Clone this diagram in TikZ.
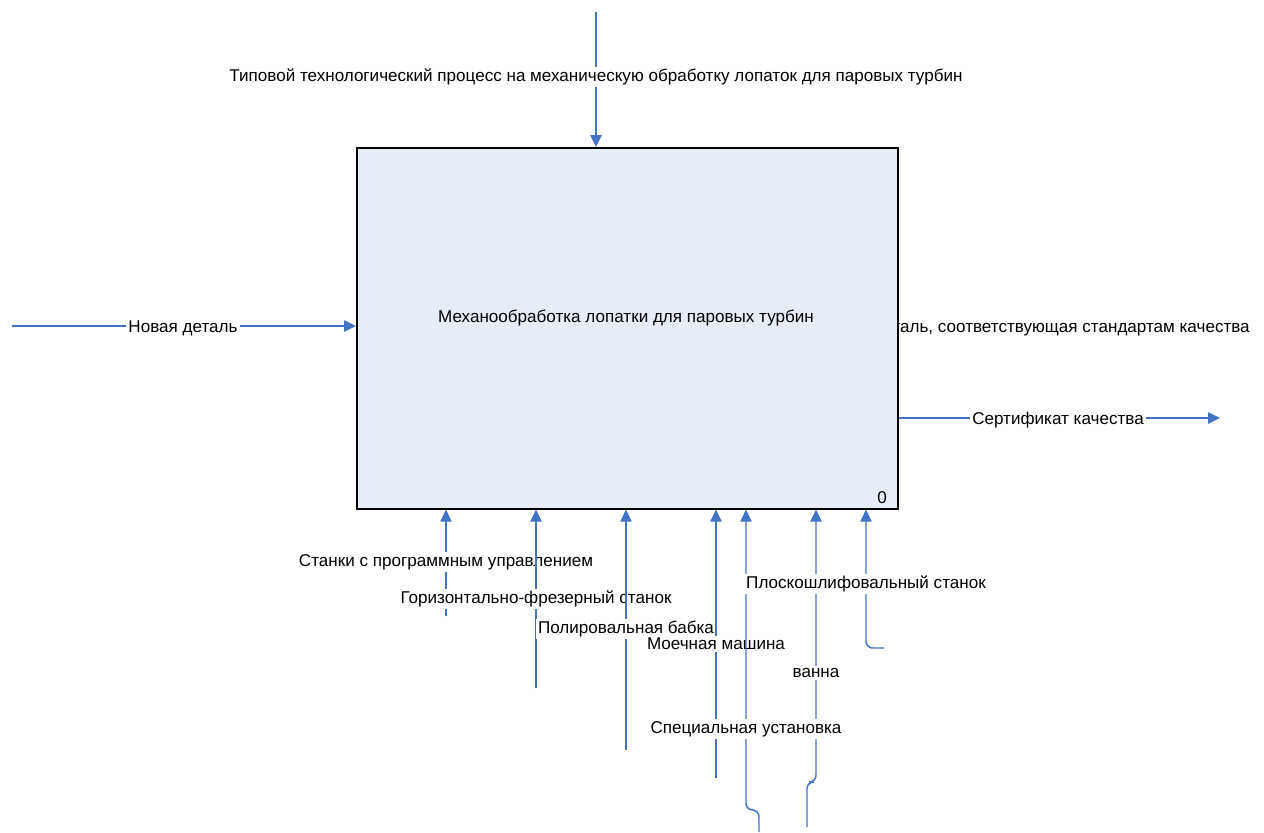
\documentclass[tikz,border=0pt]{standalone}
\usepackage{fontspec}
\setmainfont{Liberation Sans}
\usetikzlibrary{arrows.meta}
\definecolor{flow}{RGB}{68,114,196}
\definecolor{boxfill}{RGB}{230,237,248}
\begin{document}
\begin{tikzpicture}[x=0.75pt,y=-0.75pt,
  flowline/.style={draw=flow, line width=1.1pt, rounded corners=5pt,
    -{Triangle[length=9pt,width=8.5pt]}},
  txt/.style={inner sep=1.5pt, yshift=-1.5pt, font=\fontsize{12.8}{15}\selectfont},
  lbl/.style={txt, fill=white},
  funcbox/.style={draw=black, line width=1.2pt, fill=boxfill, anchor=north west,
    minimum width=405.75pt, minimum height=270.75pt}]
\useasboundingbox (0,0) rectangle (1264,832);

% output label partly hidden behind the function box
\node[txt, anchor=east] (outDetail) at (1252,326) {Деталь, соответствующая стандартам качества};

% function box
\node[funcbox] (box) at (356,147) {};
\node[txt] (boxTitle) at (626,316) {Механообработка лопатки для паровых турбин};
\node[txt] (boxNum) at (882,496) {0};

% control
\coordinate (ctrlStart) at (596,12);
\draw[flowline] (ctrlStart) -- (ctrlStart |- box.north);
\node[lbl] (ctrlLbl) at (596,75) {Типовой технологический процесс на механическую обработку лопаток для паровых турбин};

% input
\coordinate (inStart) at (12,326);
\draw[flowline] (inStart) -- (inStart -| box.west);
\node[lbl] (inLbl) at (183,326) {Новая деталь};

% output
\coordinate (outEnd) at (1220,418);
\draw[flowline] (outEnd -| box.east) -- (outEnd);
\node[lbl] (outLbl) at (1058,418) {Сертификат качества};

% mechanisms
\coordinate (m1) at (446,616);
\coordinate (m2) at (536,688);
\coordinate (m3) at (626,750);
\coordinate (m4) at (716,778);
\coordinate (m5) at (759,832);
\coordinate (m5a) at (759,810);
\coordinate (m5b) at (746,810);
\coordinate (m6) at (807,827);
\coordinate (m6a) at (807,782);
\coordinate (m6b) at (816,782);
\coordinate (m7) at (884,648);
\coordinate (m7a) at (866,648);

\draw[flowline] (m1) -- (m1 |- box.south);
\node[lbl] (m1Lbl) at (446,560) {Станки с программным управлением};
\draw[flowline] (m2) -- (m2 |- box.south);
\node[lbl] (m2Lbl) at (536,597) {Горизонтально-фрезерный станок};
\draw[flowline] (m3) -- (m3 |- box.south);
\node[lbl] (m3Lbl) at (626,627) {Полировальная бабка};
\draw[flowline] (m4) -- (m4 |- box.south);
\node[lbl] (m4Lbl) at (716,642) {Моечная машина};
\draw[flowline] (m5) -- (m5a) -- (m5b) -- (m5b |- box.south);
\draw[flowline] (m6) -- (m6a) -- (m6b) -- (m6b |- box.south);
\node[lbl] (m6Lbl) at (816,671) {ванна};
\draw[flowline] (m7) -- (m7a) -- (m7a |- box.south);
\node[lbl] (m7Lbl) at (866,582) {Плоскошлифовальный станок};
\node[lbl] (m5Lbl) at (746,727) {Специальная установка};
\end{tikzpicture}
\end{document}
